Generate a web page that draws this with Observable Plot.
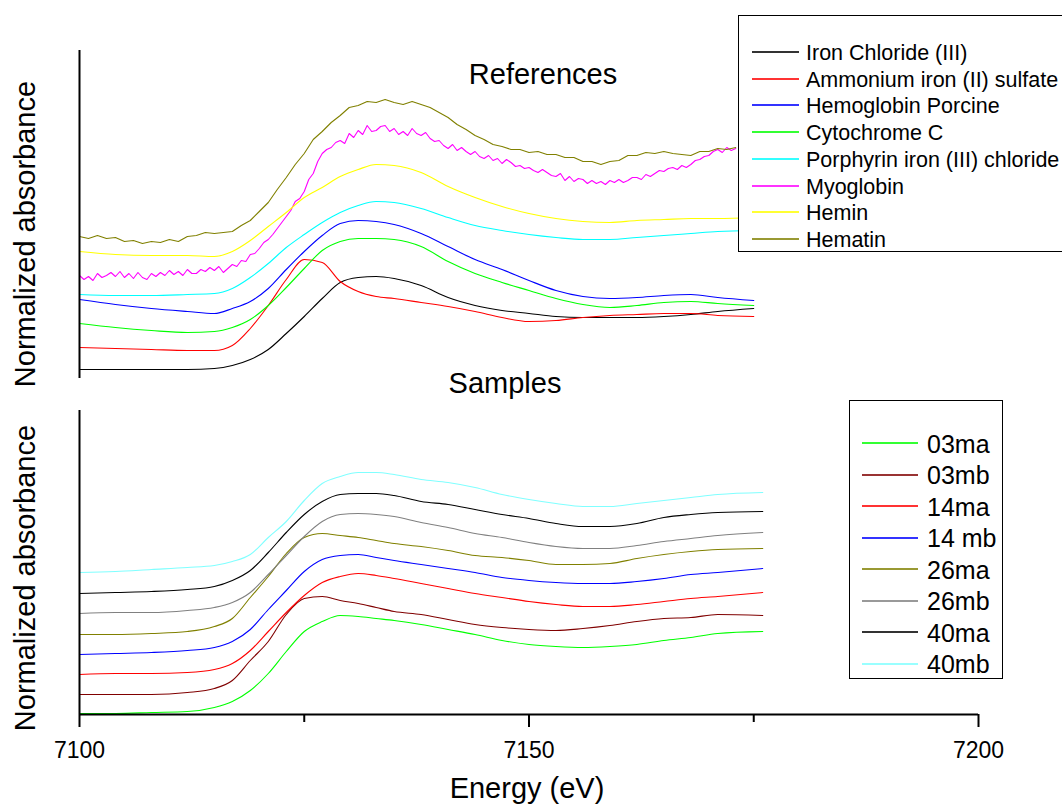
<!DOCTYPE html>
<html>
<head>
<meta charset="utf-8">
<script src="https://cdn.jsdelivr.net/npm/d3@7"></script>
<script src="https://cdn.jsdelivr.net/npm/@observablehq/plot@0.6"></script>
<style>
  body { margin: 0; background: #fff; }
  #wrap { position: relative; width: 1062px; height: 805px; overflow: hidden; background: #fff;
          font-family: "Liberation Sans", Arial, sans-serif; }
  #wrap > svg, #wrap > figure { position: absolute; left: 0; margin: 0; }
</style>
</head>
<body>
<div id="wrap"></div>
<script>
// ---------- Data: References panel ----------
const energyTop = [7100,7104,7108,7112,7115,7117,7119,7121,7123,7125,7127,7129,7131,7133,7135,7138,7141,7144,7147,7150,7153,7156,7159,7162,7165,7168,7171,7175];
const ironChloride = [0.09,0.09,0.09,0.09,0.10,0.13,0.19,0.29,0.45,0.62,0.80,0.96,1.01,1.02,1.00,0.93,0.81,0.73,0.68,0.65,0.62,0.61,0.61,0.61,0.62,0.64,0.67,0.70];
const ammoniumIron = [0.31,0.30,0.29,0.28,0.28,0.33,0.50,0.73,0.99,1.19,1.16,0.97,0.87,0.82,0.80,0.76,0.72,0.67,0.61,0.57,0.58,0.61,0.63,0.64,0.65,0.65,0.63,0.62];
const hemoglobin = [0.79,0.74,0.70,0.67,0.65,0.70,0.77,0.90,1.09,1.27,1.43,1.55,1.58,1.57,1.54,1.45,1.32,1.19,1.09,0.98,0.88,0.82,0.80,0.81,0.83,0.84,0.81,0.78];
const cytochrome = [0.55,0.51,0.48,0.46,0.47,0.51,0.59,0.73,0.91,1.10,1.28,1.37,1.40,1.40,1.39,1.32,1.17,1.05,0.96,0.88,0.80,0.74,0.71,0.73,0.76,0.77,0.75,0.73];
const porphyrin = [0.84,0.83,0.83,0.84,0.85,0.90,1.01,1.15,1.31,1.44,1.56,1.66,1.73,1.77,1.76,1.70,1.61,1.53,1.48,1.44,1.41,1.39,1.39,1.41,1.43,1.45,1.47,1.48];
const hemin = [1.27,1.24,1.23,1.23,1.22,1.27,1.38,1.52,1.66,1.81,1.91,2.02,2.09,2.14,2.13,2.06,1.92,1.81,1.72,1.65,1.60,1.57,1.56,1.58,1.59,1.60,1.60,1.61];

const energyHalf = [7100,7100.5,7101,7101.5,7102,7102.5,7103,7103.5,7104,7104.5,7105,7105.5,7106,7106.5,7107,7107.5,7108,7108.5,7109,7109.5,
  7110,7110.5,7111,7111.5,7112,7112.5,7113,7113.5,7114,7114.5,7115,7115.5,7116,7116.5,7117,7117.5,7118,7118.5,7119,7119.5,
  7120,7120.5,7121,7121.5,7122,7122.5,7123,7123.5,7124,7124.5,7125,7125.5,7126,7126.5,7127,7127.5,7128,7128.5,7129,7129.5,
  7130,7130.5,7131,7131.5,7132,7132.5,7133,7133.5,7134,7134.5,7135,7135.5,7136,7136.5,7137,7137.5,7138,7138.5,7139,7139.5,
  7140,7140.5,7141,7141.5,7142,7142.5,7143,7143.5,7144,7144.5,7145,7145.5,7146,7146.5,7147,7147.5,7148,7148.5,7149,7149.5,
  7150,7150.5,7151,7151.5,7152,7152.5,7153,7153.5,7154,7154.5,7155,7155.5,7156,7156.5,7157,7157.5,7158,7158.5,7159,7159.5,
  7160,7160.5,7161,7161.5,7162,7162.5,7163,7163.5,7164,7164.5,7165,7165.5,7166,7166.5,7167,7167.5,7168,7168.5,7169,7169.5,
  7170,7170.5,7171,7171.5,7172,7172.5,7173];
const myoglobin = [1.03,0.99,1.02,0.98,1.05,1.01,1.03,1.06,1.02,1.07,1.01,1.05,1.00,1.06,1.01,0.99,1.05,1.02,1.06,1.03,
  1.08,1.04,1.07,1.03,1.09,1.05,1.05,1.09,1.07,1.11,1.08,1.12,1.06,1.10,1.14,1.12,1.18,1.17,1.24,1.25,
  1.30,1.36,1.39,1.44,1.50,1.56,1.62,1.68,1.77,1.80,1.87,1.99,2.05,2.17,2.25,2.29,2.31,2.36,2.38,2.35,
  2.45,2.41,2.48,2.44,2.53,2.47,2.48,2.52,2.53,2.47,2.50,2.44,2.47,2.43,2.50,2.45,2.43,2.46,2.40,2.37,
  2.38,2.33,2.30,2.34,2.28,2.31,2.27,2.24,2.27,2.22,2.20,2.23,2.18,2.20,2.15,2.19,2.16,2.12,2.13,2.10,
  2.11,2.08,2.06,2.09,2.06,2.03,2.02,2.05,1.98,2.02,1.97,2.00,1.99,1.95,1.98,1.95,1.97,1.94,1.98,1.96,
  1.99,1.96,1.98,2.01,2.01,1.99,2.04,2.02,2.05,2.08,2.07,2.10,2.11,2.09,2.13,2.11,2.14,2.18,2.19,2.22,
  2.23,2.27,2.29,2.26,2.31,2.28,2.30];

const energyDense = [7100,7101,7102,7103,7104,7105,7106,7107,7108,7109,7110,7111,7112,7113,7114,7115,7116,7117,7118,7119,7120,7121,7122,7123,7124,7125,7126,7127,7128,7129,7130,7131,7132,7133,7134,7135,7136,7137,7138,7139,7140,7141,7142,7143,7144,7145,7146,7147,7148,7149,7150,7151,7152,7153,7154,7155,7156,7157,7158,7159,7160,7161,7162,7163,7164,7165,7166,7167,7168,7169,7170,7171,7172,7173];
const hematin = [1.42,1.40,1.43,1.40,1.41,1.37,1.38,1.35,1.37,1.36,
                 1.39,1.37,1.42,1.43,1.46,1.45,1.46,1.47,1.53,1.58,
                 1.67,1.76,1.89,2.01,2.14,2.25,2.39,2.47,2.56,2.63,
                 2.71,2.73,2.77,2.76,2.79,2.76,2.74,2.77,2.74,2.71,
                 2.66,2.61,2.54,2.49,2.43,2.39,2.34,2.32,2.29,2.29,
                 2.26,2.27,2.24,2.24,2.21,2.21,2.17,2.17,2.14,2.17,
                 2.18,2.23,2.23,2.26,2.25,2.27,2.25,2.24,2.23,2.27,
                 2.27,2.30,2.29,2.31];

const refNames = ["Iron Chloride (III)","Ammonium iron (II) sulfate","Hemoglobin Porcine","Cytochrome C","Porphyrin iron (III) chloride","Myoglobin","Hemin","Hematin"];
const refColors = ["#000000","#ff0000","#0000ff","#00ff00","#00ffff","#ff00ff","#ffff00","#808000"];
const refValues = [ironChloride, ammoniumIron, hemoglobin, cytochrome, porphyrin, myoglobin, hemin, hematin];
const refEnergies = [energyTop, energyTop, energyTop, energyTop, energyTop, energyHalf, energyTop, energyDense];
const refNoisy = [false, false, false, false, false, true, false, true];

// ---------- Data: Samples panel ----------
const energyBottom = [7100,7104,7108,7112,7115,7117,7119,7121,7123,7125,7127,7129,7131,7133,7135,7138,7141,7144,7147,7150,7153,7156,7159,7162,7165,7168,7171,7176];
const s03ma = [0.01,0.01,0.02,0.03,0.07,0.13,0.24,0.41,0.63,0.83,0.93,0.99,0.98,0.96,0.94,0.90,0.85,0.80,0.74,0.70,0.68,0.67,0.68,0.70,0.74,0.77,0.81,0.83];
const s03mb = [0.20,0.20,0.20,0.22,0.26,0.34,0.54,0.73,1.00,1.16,1.18,1.14,1.11,1.07,1.03,1.00,0.95,0.90,0.87,0.85,0.84,0.86,0.89,0.93,0.96,0.97,1.00,0.99];
const s14ma = [0.40,0.41,0.41,0.42,0.45,0.51,0.64,0.83,1.02,1.19,1.32,1.38,1.41,1.39,1.36,1.31,1.26,1.21,1.17,1.13,1.10,1.08,1.08,1.10,1.13,1.16,1.18,1.22];
const s14mb = [0.60,0.61,0.62,0.64,0.67,0.73,0.85,1.05,1.24,1.43,1.55,1.59,1.60,1.57,1.54,1.50,1.46,1.42,1.37,1.34,1.32,1.31,1.31,1.33,1.36,1.40,1.42,1.46];
const s26ma = [0.80,0.80,0.81,0.83,0.88,0.96,1.17,1.38,1.61,1.77,1.81,1.79,1.77,1.74,1.71,1.68,1.64,1.59,1.57,1.54,1.50,1.50,1.51,1.56,1.60,1.63,1.65,1.66];
const s26mb = [1.01,1.02,1.02,1.04,1.07,1.12,1.22,1.40,1.59,1.78,1.93,2.00,2.01,2.00,1.98,1.92,1.87,1.81,1.77,1.72,1.68,1.66,1.66,1.69,1.73,1.76,1.79,1.82];
const s40ma = [1.21,1.22,1.23,1.25,1.28,1.34,1.44,1.62,1.82,2.00,2.13,2.20,2.21,2.21,2.19,2.13,2.10,2.05,2.00,1.96,1.91,1.88,1.88,1.91,1.97,2.00,2.02,2.03];
const s40mb = [1.42,1.43,1.45,1.47,1.49,1.53,1.60,1.77,1.93,2.14,2.31,2.38,2.42,2.42,2.40,2.35,2.32,2.27,2.20,2.15,2.11,2.08,2.08,2.11,2.14,2.17,2.20,2.22];

const sampleNames = ["03ma","03mb","14ma","14 mb","26ma","26mb","40ma","40mb"];
const sampleColors = ["#00ff00","#800000","#ff0000","#0000ff","#808000","#808080","#000000","#80ffff"];
const sampleValues = [s03ma, s03mb, s14ma, s14mb, s26ma, s26mb, s40ma, s40mb];

const xTicksMajor = [7100, 7150, 7200];
const xTicksMinor = [7125, 7175];

// ---------- Build ----------
const FONT = '"Liberation Sans", Arial, sans-serif';
const wrap = document.getElementById("wrap");

function rows(energies, values) {
  return values.map((v, i) => ({E: energies[i], v}));
}

const topPlot = Plot.plot({
  width: 1062, height: 400,
  marginLeft: 79, marginRight: 84, marginTop: 48, marginBottom: 22,
  style: {fontFamily: FONT, background: "transparent", overflow: "visible"},
  x: {domain: [7100, 7200], axis: null},
  y: {domain: [0, 3.3], axis: null},
  marks: [
    ...refValues.map((vals, k) =>
      Plot.line(rows(refEnergies[k], vals), {x: "E", y: "v", stroke: refColors[k], strokeWidth: 1.1,
        curve: refNoisy[k] ? "linear" : "monotone-x"})),
    Plot.ruleX([7100], {y1: 0, y2: 3.28, stroke: "#000", strokeWidth: 2})
  ]
});
topPlot.style.top = "0px";
wrap.appendChild(topPlot);

const bottomPlot = Plot.plot({
  width: 1062, height: 405,
  marginLeft: 79, marginRight: 84, marginTop: 10, marginBottom: 91,
  style: {fontFamily: FONT, background: "transparent", overflow: "visible"},
  x: {domain: [7100, 7200]},
  y: {domain: [0, 3.04], axis: null},
  marks: [
    ...sampleValues.map((vals, k) =>
      Plot.line(rows(energyBottom, vals), {x: "E", y: "v", stroke: sampleColors[k], strokeWidth: 1.1, curve: "monotone-x"})),
    Plot.ruleX([7100], {y1: 0, y2: 3.04, stroke: "#000", strokeWidth: 2}),
    Plot.ruleY([0], {x1: 7100, x2: 7200, stroke: "#000", strokeWidth: 2}),
    Plot.axisX({ticks: xTicksMajor, tickSize: 13, tickPadding: 14, fontSize: 23, strokeWidth: 2,
                label: null, tickFormat: d => String(d), fill: "#000", stroke: "#000"}),
    Plot.axisX({ticks: xTicksMinor, tickSize: 8, strokeWidth: 2, label: null,
                tickFormat: () => "", stroke: "#000"})
  ]
});
bottomPlot.style.top = "400px";
wrap.appendChild(bottomPlot);

// ---------- Overlay: titles, axis labels, legends ----------
const svg = d3.select(wrap).append("svg")
  .attr("width", 1062).attr("height", 805)
  .style("position", "absolute").style("left", "0px").style("top", "0px")
  .style("font-family", FONT);

function txt(s, x, y, size, anchor = "start", rotate = false) {
  const t = svg.append("text").text(s).attr("font-size", size).attr("fill", "#000")
    .attr("text-anchor", anchor);
  if (rotate) t.attr("transform", `translate(${x},${y}) rotate(-90)`);
  else t.attr("x", x).attr("y", y);
  return t;
}

txt("References", 543, 84, 29, "middle");
txt("Samples", 505, 393, 29, "middle");
txt("Energy (eV)", 527, 798, 29, "middle");
txt("Normalized absorbance", 35, 234, 29, "middle", true);
txt("Normalized absorbance", 35, 578, 29, "middle", true);

// Legend: references
svg.append("rect").attr("x", 738.5).attr("y", 15.5).attr("width", 340).attr("height", 236)
  .attr("fill", "#fff").attr("stroke", "#000").attr("stroke-width", 1);
refNames.forEach((n, i) => {
  const yc = 52 + i * 26.7;
  const y = Math.round(yc);
  svg.append("line").attr("x1", 752).attr("x2", 799).attr("y1", y).attr("y2", y)
    .attr("stroke", refColors[i]).attr("stroke-width", 2).attr("stroke-opacity", 0.8);
  txt(n, 806, yc + 8, 21.5);
});

// Legend: samples
svg.append("rect").attr("x", 849.5).attr("y", 400.5).attr("width", 153).attr("height", 278)
  .attr("fill", "#fff").attr("stroke", "#000").attr("stroke-width", 1);
sampleNames.forEach((n, i) => {
  const yc = 443 + i * 31.5;
  const y = Math.round(yc);
  svg.append("line").attr("x1", 862).attr("x2", 918).attr("y1", y).attr("y2", y)
    .attr("stroke", sampleColors[i]).attr("stroke-width", 2).attr("stroke-opacity", 0.8);
  txt(n, 927, yc + 9.5, 25);
});
</script>
</body>
</html>
